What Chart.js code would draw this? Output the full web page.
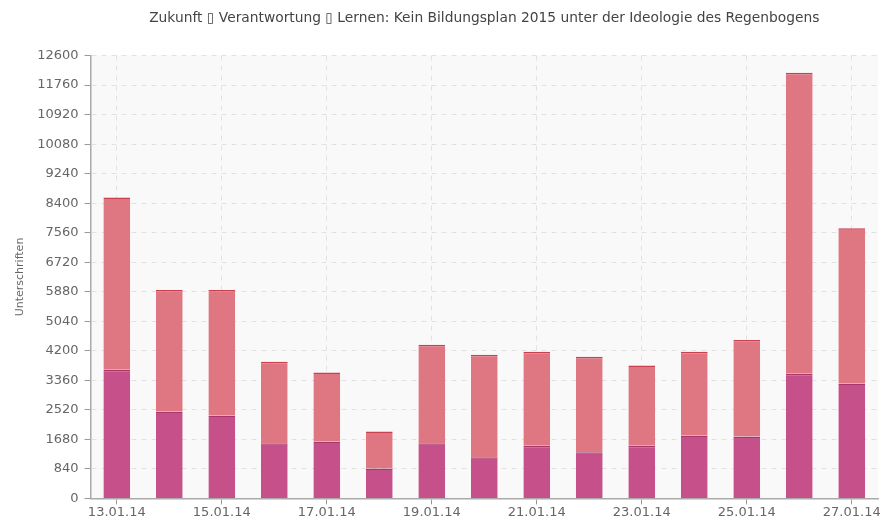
<!DOCTYPE html>
<html>
<head>
<meta charset="utf-8">
<script src="https://cdn.jsdelivr.net/npm/chart.js@4/dist/chart.umd.min.js"></script>
<style>
    html, body { margin: 0; padding: 0; background: #fff; }
    #wrap { width: 882px; height: 522px; }
</style>
</head>
<body>
<div id="wrap"><canvas id="chart_signatures"></canvas></div>
<script>
const DAYS = ["13.01.14", "14.01.14", "15.01.14", "16.01.14", "17.01.14", "18.01.14", "19.01.14", "20.01.14",
    "21.01.14", "22.01.14", "23.01.14", "24.01.14", "25.01.14", "26.01.14", "27.01.14"];

// lower (dark) part and upper (light) part of each stacked bar
const LOWER = [3660, 2470, 2360, 1570, 1620, 850, 1570, 1170, 1500, 1310, 1500, 1790, 1760, 3550, 3270];
const TOTAL = [8560, 5930, 5930, 3890, 3580, 1900, 4370, 4090, 4170, 4030, 3780, 4170, 4510, 12110, 7690];
const UPPER = TOTAL.map((t, i) => t - LOWER[i]);

const Y_MAX = 12600;
const Y_STEP = 840;

const TITLE = "Zukunft \u25AF Verantwortung \u25AF Lernen: Kein Bildungsplan 2015 unter der Ideologie des Regenbogens";

const plotBackground = {
    id: "plotBackground",
    beforeDraw: (chart) => {
        const { ctx, chartArea } = chart;
        ctx.save();
        ctx.fillStyle = "#f9f9f9";
        ctx.fillRect(chartArea.left, chartArea.top, chartArea.right - chartArea.left, chartArea.bottom - chartArea.top);
        ctx.restore();
    },
};

const ctx = document.getElementById("chart_signatures");
const signaturesChart = new Chart(ctx, {
    type: "bar",
    data: {
        labels: DAYS,
        datasets: [
            {
                label: "lower",
                data: LOWER,
                backgroundColor: "#c65089",
                borderColor: "#a8386c",
                borderWidth: { top: 1.5, left: 0, right: 0, bottom: 0 },
                borderSkipped: false,
                barPercentage: 0.51,
                categoryPercentage: 1,
            },
            {
                label: "upper",
                data: UPPER,
                backgroundColor: "#de7782",
                borderColor: "#c9404f",
                borderWidth: { top: 1.5, left: 0, right: 0, bottom: 0 },
                borderSkipped: false,
                barPercentage: 0.51,
                categoryPercentage: 1,
            },
        ],
    },
    options: {
        responsive: true,
        maintainAspectRatio: false,
        animation: false,
        layout: { padding: { left: 14, right: 4, top: 10, bottom: 2 } },
        plugins: {
            legend: { display: false },
            tooltip: { enabled: false },
            title: {
                display: true,
                fullSize: false,
                text: TITLE,
                color: "#444",
                font: { family: "DejaVu Sans", size: 13.8, weight: "normal" },
                padding: { top: 0, bottom: 29 },
            },
        },
        scales: {
            x: {
                stacked: true,
                grid: {
                    offset: false,
                    color: "#e2e2e2",
                    tickColor: "#999",
                    tickLength: 6,
                    tickBorderDash: [],
                },
                border: { color: "#aaa", width: 1.5, dash: [5, 5] },
                ticks: {
                    autoSkip: false,
                    maxRotation: 0,
                    padding: 0,
                    color: "#666",
                    font: { family: "DejaVu Sans", size: 13 },
                    callback: function (value, index) {
                        return index % 2 === 0 ? this.getLabelForValue(value) : null;
                    },
                },
            },
            y: {
                stacked: true,
                min: 0,
                max: Y_MAX,
                title: {
                    display: true,
                    text: "Unterschriften",
                    color: "#666",
                    font: { family: "DejaVu Sans", size: 11 },
                    padding: { top: 0, bottom: 4 },
                },
                grid: {
                    color: "#e2e2e2",
                    tickColor: "#999",
                    tickLength: 6,
                    tickBorderDash: [],
                },
                border: { color: "#aaa", width: 1.5, dash: [5, 5] },
                ticks: {
                    stepSize: Y_STEP,
                    padding: 6,
                    color: "#666",
                    font: { family: "DejaVu Sans", size: 13 },
                    callback: (value) => String(value),
                },
            },
        },
    },
    plugins: [plotBackground],
});
</script>
</body>
</html>
